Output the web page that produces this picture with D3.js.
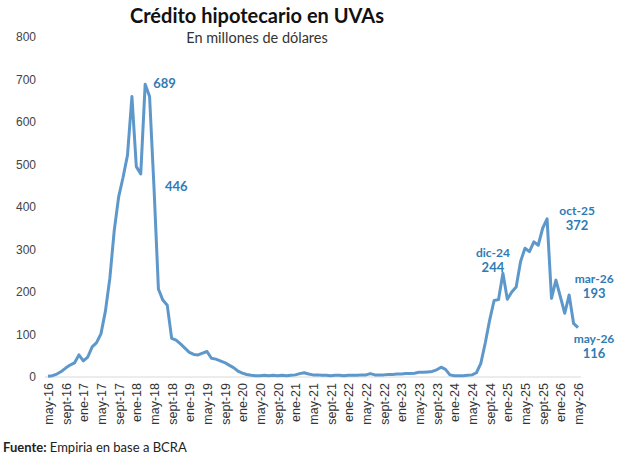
<!DOCTYPE html>
<html>
<head>
<meta charset="utf-8">
<script src="https://cdn.jsdelivr.net/npm/d3@7"></script>
<style>
  body { margin: 0; background: #fff; }
  svg { display: block; font-family: Lato, "Open Sans", sans-serif; }
</style>
</head>
<body>
<div id="chart"></div>
<script>
// mensual, may-16 .. may-26 (millones de USD)
var mesesNombres = ["ene","feb","mar","abr","may","jun","jul","ago","sept","oct","nov","dic"];
var valores = [
  2, 3, 7, 13, 21, 28, 33, 52, 38, 47, 71, 81,
  102, 155, 232, 345, 424, 470, 522, 660, 495, 478, 689, 660,
  446, 207, 181, 169, 91, 87, 78, 68, 58, 53, 52, 56,
  60, 44, 42, 38, 34, 28, 22, 14, 9, 6, 4, 3,
  3, 4, 3, 4, 3, 4, 3, 4, 5, 8, 10, 7,
  5, 5, 4, 4, 3, 4, 4, 3, 4, 4, 4, 5,
  5, 8, 5, 5, 5, 6, 6, 7, 7, 8, 8, 9,
  11, 11, 12, 13, 17, 23, 18, 5, 3, 3, 3, 4,
  5, 10, 32, 80, 134, 180, 182, 244, 183, 200, 212, 272,
  303, 295, 318, 310, 350, 372, 185, 228, 189, 150, 193, 126,
  116
];
var yTicks = [0, 100, 200, 300, 400, 500, 600, 700, 800];
// puntos anotados (indice del mes, mostrar fecha?)
var anotIdx = [22, 24, 103, 113, 118, 120];
var anotFecha = [false, false, true, true, true, true];

// categories
var meses = [];
for (var k = 0; k < valores.length; k++) {
    var m = (4 + k) % 12;
    var a = 16 + Math.floor((4 + k) / 12);
    meses.push(mesesNombres[m] + "-" + a);
}

var width = 617, height = 460;
var svg = d3.select("#chart").append("svg")
    .attr("width", width)
    .attr("height", height);

var x = d3.scalePoint()
    .domain(meses)
    .range([48, 578]);

var y = d3.scaleLinear()
    .domain([0, 800])
    .range([377, 37]);

// title
svg.append("text")
    .attr("x", 257).attr("y", 23)
    .attr("text-anchor", "middle")
    .style("font-size", "20px").style("font-weight", "bold")
    .attr("fill", "#111")
    .text("Crédito hipotecario en UVAs");

svg.append("text")
    .attr("x", 257).attr("y", 43)
    .attr("text-anchor", "middle")
    .style("font-size", "14.5px")
    .attr("fill", "#333")
    .text("En millones de dólares");

// Y axis (labels only)
var yAxis = svg.append("g")
    .attr("class", "yAxis")
    .attr("transform", "translate(36,0)")
    .call(d3.axisLeft(y).tickValues(yTicks).tickSize(0).tickPadding(0));
yAxis.select(".domain").remove();
yAxis.selectAll("text")
    .style("font-size", "12px")
    .attr("fill", "#444");

// X axis
var xAxis = svg.append("g")
    .attr("class", "xAxis")
    .attr("transform", "translate(0,377)")
    .call(d3.axisBottom(x)
        .tickValues(meses.filter(function(d, i){ return i % 4 === 0; }))
        .tickSize(0)
        .tickSizeOuter(0));
xAxis.select(".domain").remove();
xAxis.append("line")
    .attr("x1", 45).attr("x2", 581)
    .attr("y1", 0).attr("y2", 0)
    .attr("stroke", "#d9d9d9").attr("stroke-width", 1);
xAxis.selectAll(".tick text")
    .attr("transform", "rotate(-90)")
    .attr("text-anchor", "end")
    .attr("x", -6)
    .attr("y", 0)
    .attr("dy", "0.35em")
    .style("font-size", "12.5px")
    .attr("fill", "#333");

// Line
var line = d3.line()
    .x(function(d, i){ return x(meses[i]); })
    .y(function(d){ return y(d); });

svg.append("path")
    .datum(valores)
    .attr("d", line)
    .attr("fill", "none")
    .attr("stroke", "#5e98cb")
    .attr("stroke-width", 3)
    .attr("stroke-linejoin", "round");

// labels
var offs = {
    22: {dx: 8, dy: [4], anchor: "start"},
    24: {dx: 11, dy: [4], anchor: "start"},
    103: {dx: -10, dy: [-16, -1], anchor: "middle"},
    113: {dx: 30, dy: [-4, 11], anchor: "middle"},
    118: {dx: 25, dy: [-12, 3], anchor: "middle"},
    120: {dx: 16, dy: [15, 30], anchor: "middle"}
};
anotIdx.forEach(function(idx, j){
    var o = offs[idx];
    var lines = anotFecha[j] ? [meses[idx], String(valores[idx])] : [String(valores[idx])];
    lines.forEach(function(t, n){
        var esFecha = anotFecha[j] && n === 0;
        svg.append("text")
            .attr("x", x(meses[idx]) + o.dx)
            .attr("y", y(valores[idx]) + o.dy[n])
            .attr("text-anchor", o.anchor)
            .style("font-size", esFecha ? "12px" : "13px").style("font-weight", "bold")
            .attr("fill", "#2f7bb4")
            .text(t);
    });
});

// source
var src = svg.append("text")
    .attr("x", 3).attr("y", 452)
    .style("font-size", "13px")
    .attr("fill", "#222");
src.append("tspan").style("font-weight", "bold").text("Fuente:");
src.append("tspan").text(" Empiria en base a BCRA");
</script>
</body>
</html>
